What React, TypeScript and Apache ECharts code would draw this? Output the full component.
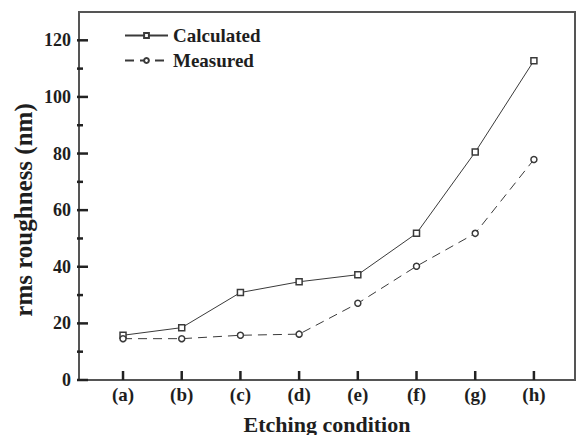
import React, { useEffect, useRef } from "react";
import * as echarts from "echarts";

const categories = ["(a)", "(b)", "(c)", "(d)", "(e)", "(f)", "(g)", "(h)"];
const calculated = [15.8, 18.5, 30.9, 34.7, 37.2, 51.8, 80.5, 112.8];
const measured = [14.6, 14.6, 15.8, 16.2, 27.1, 40.2, 51.8, 77.9];
const yMajorTicks = [0, 20, 40, 60, 80, 100, 120];
const yMinorTicks = [10, 30, 50, 70, 90, 110];

const X_MIN = -0.75;
const X_MAX = 7.7;
const FONT = "'Liberation Serif', 'Times New Roman', serif";
const INK = "#3a3a3a";
const TICK = "#222222";
const TEXT = "#1e1e1e";

export default function App() {
  const ref = useRef<HTMLDivElement>(null);
  useEffect(() => {
    if (!ref.current) return;
    const chart = echarts.init(ref.current, null, { renderer: "svg" });
    const xIdx = categories.map((_, i) => i);
    chart.setOption({
      animation: false,
      backgroundColor: "#fff",
      grid: {
        left: 79,
        top: 12,
        right: 3,
        bottom: 55,
        show: true,
        backgroundColor: "transparent",
        borderColor: "#555",
        borderWidth: 2,
        outerBoundsMode: "none",
        containLabel: false,
      },
      legend: {
        orient: "vertical",
        left: 119,
        top: 21,
        itemWidth: 43,
        itemHeight: 6,
        itemGap: 6,
        textStyle: { fontFamily: FONT, fontWeight: "bold", fontSize: 19, color: TEXT },
        data: ["Calculated", "Measured"],
      },
      graphic: [
        {
          type: "text",
          x: 23,
          y: 210,
          rotation: Math.PI / 2,
          style: {
            text: "rms roughness (nm)",
            fontFamily: FONT,
            fontWeight: "bold",
            fontSize: 25,
            fill: TEXT,
            align: "center",
            verticalAlign: "middle",
          },
        },
      ],
      xAxis: {
        type: "value",
        min: X_MIN,
        max: X_MAX,
        axisLine: { show: true, onZero: false, lineStyle: { color: "#555", width: 2 } },
        splitLine: { show: false },
        axisTick: { show: false },
        axisLabel: {
          customValues: xIdx,
          formatter: (v: number) => categories[Math.round(v)] ?? "",
          fontFamily: FONT,
          fontWeight: "bold",
          fontSize: 19,
          color: TEXT,
          margin: 5,
        },
        name: "Etching condition",
        nameLocation: "middle",
        nameGap: 33,
        nameTextStyle: { fontFamily: FONT, fontWeight: "bold", fontSize: 22, color: TEXT },
      },
      yAxis: {
        type: "value",
        min: 0,
        max: 130,
        interval: 20,
        axisLine: { show: true, onZero: false, lineStyle: { color: "#555", width: 2 } },
        splitLine: { show: false },
        axisTick: { show: false },
        axisLabel: {
          customValues: yMajorTicks,
          fontFamily: FONT,
          fontWeight: "bold",
          fontSize: 18,
          color: TEXT,
          margin: 8,
        },
      },
      series: [
        {
          name: "Calculated",
          type: "line",
          data: calculated.map((v, i) => [i, v]),
          symbol: "rect",
          symbolSize: 6,
          showAllSymbol: true,
          lineStyle: { color: INK, width: 1, type: "solid" },
          itemStyle: { color: "#fff", borderColor: INK, borderWidth: 1.5 },
          z: 3,
        },
        {
          name: "Measured",
          type: "line",
          data: measured.map((v, i) => [i, v]),
          symbol: "circle",
          symbolSize: 6,
          showAllSymbol: true,
          lineStyle: { color: INK, width: 1, type: [9, 6] },
          itemStyle: { color: "#fff", borderColor: INK, borderWidth: 1.5 },
          z: 3,
        },
        {
          name: "xTicks",
          type: "custom",
          silent: true,
          data: xIdx.map((i) => [i, 0]),
          encode: { x: 0, y: 1 },
          renderItem: (_params: any, api: any) => {
            const p = api.coord([api.value(0), 0]);
            return {
              type: "rect",
              shape: { x: p[0] - 1.25, y: p[1] - 9, width: 2.5, height: 9 },
              style: { fill: TICK },
            };
          },
          z: 4,
        },
        {
          name: "yMajorTicks",
          type: "custom",
          silent: true,
          data: yMajorTicks.map((v) => [X_MIN, v]),
          encode: { x: 0, y: 1 },
          renderItem: (_params: any, api: any) => {
            const p = api.coord([X_MIN, api.value(1)]);
            return {
              type: "rect",
              shape: { x: p[0] - 2, y: p[1] - 1.25, width: 11, height: 2.5 },
              style: { fill: TICK },
            };
          },
          z: 4,
        },
        {
          name: "yMinorTicks",
          type: "custom",
          silent: true,
          data: yMinorTicks.map((v) => [X_MIN, v]),
          encode: { x: 0, y: 1 },
          renderItem: (_params: any, api: any) => {
            const p = api.coord([X_MIN, api.value(1)]);
            return {
              type: "rect",
              shape: { x: p[0] - 2, y: p[1] - 1.25, width: 6, height: 2.5 },
              style: { fill: TICK },
            };
          },
          z: 4,
        },
      ],
    });
    return () => chart.dispose();
  }, []);
  return <div ref={ref} style={{ width: 578, height: 435, position: "absolute", left: 0, top: 0 }} />;
}
